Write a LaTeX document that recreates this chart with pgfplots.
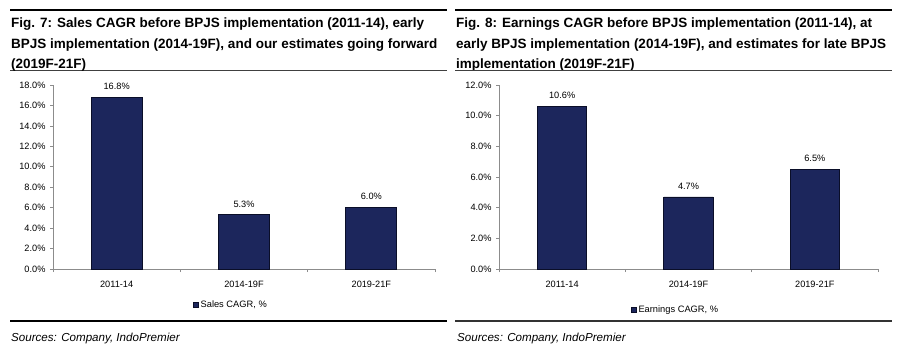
\documentclass[border=0pt]{standalone}
\usepackage{fontspec}
\setmainfont{Liberation Sans}
\usepackage{pgfplots}
\pgfplotsset{compat=1.18}
\definecolor{barfill}{RGB}{28,38,92}
\definecolor{bardraw}{RGB}{10,14,40}
\definecolor{axgray}{RGB}{140,140,140}
\pgfplotsset{
  cagr/.style={
    scale only axis,
    ybar, bar width=0.4,
    xmin=-0.5, xmax=2.5, ymin=0,
    axis x line=bottom, axis y line=left,
    axis line style={-, draw=axgray, line width=0.7pt},
    xtick={0,1,2},
    xticklabels={2011-14,2014-19F,2019-21F},
    major x tick style={draw=none},
    extra x ticks={-0.5,0.5,1.5,2.5},
    extra x tick labels={},
    extra x tick style={major x tick style={draw=axgray, line width=0.6pt}},
    tick align=outside, major tick length=3pt,
    y tick style={draw=axgray, line width=0.6pt},
    /pgf/number format/assume math mode=true,
    yticklabel={\pgfmathprintnumber[fixed,fixed zerofill,precision=1]{\tick}\%},
    ticklabel style={font=\fontsize{9.2}{10}\selectfont},
    xticklabel style={yshift=-6pt},
    yticklabel style={xshift=-1pt},
    nodes near coords={\pgfmathprintnumber[fixed,fixed zerofill,precision=1]{\pgfplotspointmeta}\%},
    nodes near coords style={font=\fontsize{9.2}{10}\selectfont, yshift=4pt},
    legend style={at={(0.466,-0.195)}, anchor=center, draw=none, fill=none,
      font=\fontsize{9.3}{10}\selectfont, inner sep=0pt},
    clip=false,
  },
  cagrbar/.style={fill=barfill, draw=bardraw, line width=0.8pt,
    legend image code/.code={\draw[fill=barfill,draw=bardraw,line width=0.4pt] (0pt,-2.5pt) rectangle (5pt,2.5pt);}},
}
\begin{document}
\begin{tikzpicture}
\path[use as bounding box] (0pt,0pt) rectangle (900pt,-348pt);
% Left panel frame
\draw[line width=2.6pt, black] (10pt,-10pt) -- (447pt,-10pt);
\draw[line width=1.8pt, black!75] (10pt,-70.5pt) -- (447pt,-70.5pt);
\draw[line width=2pt, black] (10pt,-321pt) -- (447pt,-321pt);
\begin{scope}[every node/.style={anchor=base west, inner sep=0pt, font=\bfseries\fontsize{13.5}{15}\selectfont}]
\node at (11pt,-27.8pt) {Fig. 7: Sales CAGR before BPJS implementation (2011-14), early};
\node at (11pt,-48.2pt) {BPJS implementation (2014-19F), and our estimates going forward};
\node at (11pt,-68pt) {(2019F-21F)};
\node at (456pt,-27.8pt) {Fig. 8: Earnings CAGR before BPJS implementation (2011-14), at};
\node at (456pt,-48.2pt) {early BPJS implementation (2014-19F), and estimates for late BPJS};
\node at (456pt,-68pt) {implementation (2019F-21F)};
\end{scope}
\node[anchor=base west, inner sep=0pt, font=\itshape\fontsize{11.6}{13}\selectfont] at (11pt,-341pt) {Sources: Company, IndoPremier};
\node[anchor=base west, inner sep=0pt, font=\itshape\fontsize{11.6}{13}\selectfont] at (457pt,-341pt) {Sources: Company, IndoPremier};
% Right panel frame
\draw[line width=2.6pt, black] (455pt,-10pt) -- (892pt,-10pt);
\draw[line width=1.8pt, black!75] (455pt,-70.5pt) -- (892pt,-70.5pt);
\draw[line width=1.4pt, black!80] (455pt,-321pt) -- (892pt,-321pt);

\begin{axis}[cagr, at={(53pt,-269pt)}, anchor=south west,
  width=382pt, height=184pt, ymax=18, ytick={0,2,...,18}]
\addplot[cagrbar] coordinates {(0,16.8) (1,5.3) (2,6.0)};
\addlegendentry{Sales CAGR, \%}
\end{axis}

\begin{axis}[cagr, at={(499pt,-269pt)}, anchor=south west,
  width=379pt, height=184pt, ymax=12, ytick={0,2,...,12}, bar width=0.39,
  legend style={at={(0.466,-0.22)}}]
\addplot[cagrbar] coordinates {(0,10.6) (1,4.7) (2,6.5)};
\addlegendentry{Earnings CAGR, \%}
\end{axis}
\end{tikzpicture}
\end{document}
